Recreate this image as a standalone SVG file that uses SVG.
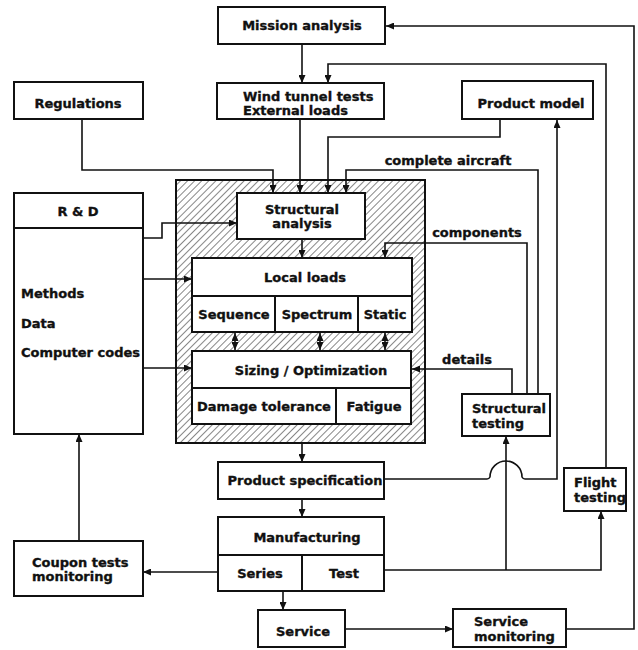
<svg xmlns="http://www.w3.org/2000/svg" width="638" height="650" viewBox="0 0 638 650">
<style>
.box{fill:#fff;stroke:#111;stroke-width:2}
.t{font-family:"DejaVu Sans","Liberation Sans",sans-serif;font-weight:bold;font-size:13px;fill:#111;stroke:#111;stroke-width:0.35}
.c{text-anchor:middle}
.ln{fill:none;stroke:#111;stroke-width:1.6}
.a{marker-end:url(#ah)}
.aa{marker-start:url(#ahs);marker-end:url(#ah)}
</style>
<defs>
<marker id="ah" markerUnits="userSpaceOnUse" markerWidth="8" markerHeight="7" refX="8" refY="3.5" orient="auto"><path d="M0,0 L8,3.5 L0,7 z" fill="#111"/></marker>
<marker id="ahs" markerUnits="userSpaceOnUse" markerWidth="8" markerHeight="7" refX="0" refY="3.5" orient="auto"><path d="M8,0 L0,3.5 L8,7 z" fill="#111"/></marker>
<pattern id="hatch" patternUnits="userSpaceOnUse" width="5" height="5" patternTransform="rotate(45)"><line x1="0" y1="0" x2="0" y2="5" stroke="#222" stroke-width="1.1"/></pattern>
</defs>
<rect width="638" height="650" fill="#fff"/>

<g id="core">
<rect x="176" y="180" width="249" height="263" fill="url(#hatch)" stroke="#111" stroke-width="2"/>
</g>

<g id="connectors">
<path class="ln a" d="M302,44 V83"/>
<path class="ln a" d="M566,629 H634 V26 H386"/>
<path class="ln a" d="M606,468 V64 H328 V83"/>
<path class="ln a" d="M82,119 V170 H273 V193"/>
<path class="ln a" d="M300,119 V193"/>
<path class="ln a" d="M500,119 V137 H328 V193"/>
<path class="ln a" d="M538,394 V170 H346 V193"/>
<path class="ln a" d="M527,394 V243 H385 V258"/>
<path class="ln a" d="M512,394 V369 H412"/>
<path class="ln a" d="M302,239 V258"/>
<path class="ln aa" d="M235,333 V350"/>
<path class="ln aa" d="M320,333 V350"/>
<path class="ln aa" d="M385,333 V350"/>
<path class="ln a" d="M302,443 V462"/>
<path class="ln a" d="M384,479 H487 Q489,479 490,477 A16,16 0 0 1 522,477 Q523,479 525,479 H557 V120"/>
<path class="ln a" d="M302,499 V517"/>
<path class="ln a" d="M283,591 V610"/>
<path class="ln a" d="M345,629 H453"/>
<path class="ln a" d="M384,570 H601 V511"/>
<path class="ln a" d="M506,570 V436"/>
<path class="ln a" d="M218,572 H143"/>
<path class="ln a" d="M79,541 V434"/>
<path class="ln a" d="M143,238 H162 V223 H237"/>
<path class="ln a" d="M143,279 H192"/>
<path class="ln a" d="M143,368 H192"/>
<text class="t c" x="448" y="165">complete aircraft</text>
<text class="t c" x="477" y="237">components</text>
<text class="t c" x="467" y="364">details</text>
</g>

<g id="mission"><rect class="box" x="218" y="7" width="167" height="37"/><text class="t c" x="302" y="30">Mission analysis</text></g>
<g id="windtunnel"><rect class="box" x="217" y="83" width="167" height="36"/><text class="t" x="243" y="101">Wind tunnel tests</text><text class="t" x="243" y="115">External loads</text></g>
<g id="regulations"><rect class="box" x="14" y="82" width="129" height="37"/><text class="t c" x="78" y="108">Regulations</text></g>
<g id="productmodel"><rect class="box" x="462" y="81" width="131" height="38"/><text class="t c" x="531" y="108">Product model</text></g>
<g id="rd"><rect class="box" x="14" y="193" width="129" height="241"/><line x1="14" y1="228" x2="143" y2="228" stroke="#111" stroke-width="2"/><text class="t c" x="78" y="216">R &amp; D</text><text class="t" x="21" y="298">Methods</text><text class="t" x="21" y="328">Data</text><text class="t" x="21" y="357">Computer codes</text></g>
<g id="structanalysis"><rect class="box" x="237" y="193" width="128" height="46"/><text class="t c" x="302" y="214">Structural</text><text class="t c" x="302" y="228">analysis</text></g>
<g id="localloads"><rect class="box" x="192" y="258" width="220" height="74"/><line x1="192" y1="296" x2="412" y2="296" stroke="#111" stroke-width="2"/><line x1="275" y1="296" x2="275" y2="332" stroke="#111" stroke-width="2"/><line x1="358" y1="296" x2="358" y2="332" stroke="#111" stroke-width="2"/><text class="t c" x="305" y="282">Local loads</text><text class="t c" x="234" y="319">Sequence</text><text class="t c" x="317" y="319">Spectrum</text><text class="t c" x="385" y="319">Static</text></g>
<g id="sizing"><rect class="box" x="192" y="351" width="219" height="73"/><line x1="192" y1="388" x2="411" y2="388" stroke="#111" stroke-width="2"/><line x1="336" y1="388" x2="336" y2="424" stroke="#111" stroke-width="2"/><text class="t c" x="311" y="375">Sizing / Optimization</text><text class="t c" x="264" y="411">Damage tolerance</text><text class="t c" x="374" y="411">Fatigue</text></g>
<g id="structtesting"><rect class="box" x="462" y="394" width="88" height="42"/><text class="t" x="472" y="413">Structural</text><text class="t" x="472" y="428">testing</text></g>
<g id="productspec"><rect class="box" x="218" y="462" width="166" height="37"/><text class="t c" x="305" y="485">Product specification</text></g>
<g id="flighttesting"><rect class="box" x="564" y="468" width="62" height="43"/><text class="t" x="574" y="487">Flight</text><text class="t" x="574" y="502">testing</text></g>
<g id="manufacturing"><rect class="box" x="218" y="517" width="166" height="74"/><line x1="218" y1="555" x2="384" y2="555" stroke="#111" stroke-width="2"/><line x1="302" y1="555" x2="302" y2="591" stroke="#111" stroke-width="2"/><text class="t c" x="307" y="542">Manufacturing</text><text class="t c" x="260" y="578">Series</text><text class="t c" x="344" y="578">Test</text></g>
<g id="coupon"><rect class="box" x="14" y="541" width="129" height="55"/><text class="t" x="32" y="567">Coupon tests</text><text class="t" x="32" y="581">monitoring</text></g>
<g id="service"><rect class="box" x="258" y="610" width="87" height="37"/><text class="t c" x="303" y="636">Service</text></g>
<g id="servicemonitoring"><rect class="box" x="453" y="609" width="113" height="38"/><text class="t" x="474" y="626">Service</text><text class="t" x="474" y="641">monitoring</text></g>
</svg>
